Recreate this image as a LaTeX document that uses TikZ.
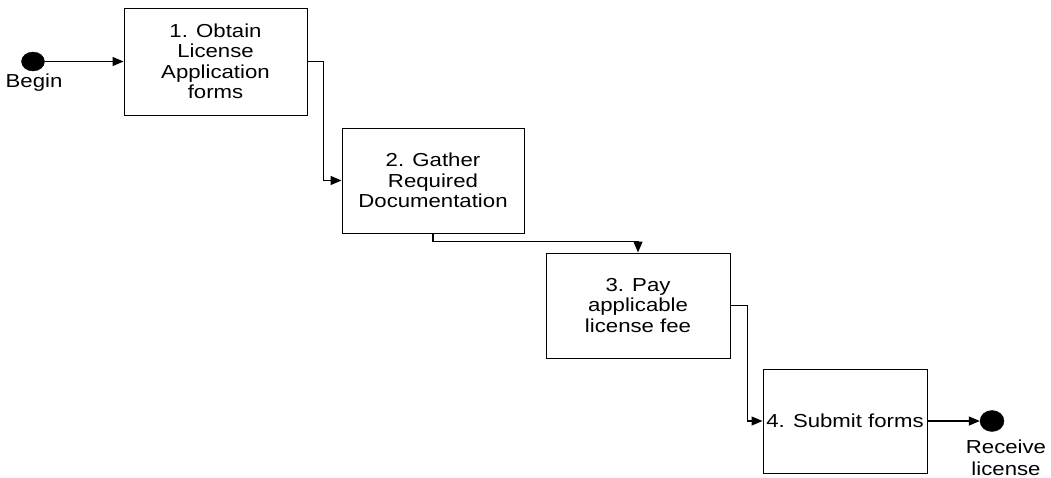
\documentclass[tikz,border=0pt]{standalone}
\usepackage{fontspec}
\setmainfont{Liberation Sans}[FakeStretch=1.18]
\usetikzlibrary{arrows.meta,shapes.geometric}
\begin{document}
\begin{tikzpicture}[x=1pt,y=-1pt,
  stepbox/.style={draw,line width=1pt,rectangle,inner sep=0pt,align=center,
    font=\fontsize{18.8}{20.5}\selectfont},
  dot/.style={ellipse,fill=black,draw=black,inner sep=0pt,minimum width=23pt,minimum height=19pt},
  lbl/.style={align=center,inner sep=0pt,anchor=base,font=\fontsize{18.8}{22}\selectfont},
  conn/.style={line width=1.3pt,-{Triangle[length=11pt,width=9pt]}}]
\useasboundingbox (0,0) rectangle (1051,477);
\node[dot] (begin) at (33,61.5) {};
\node[lbl] (beginl) at (34,87) {Begin};
\node[stepbox,minimum width=183pt,minimum height=107pt] (s1) at (215.5,61.5)
  {1. Obtain\\License\\Application\\forms};
\node[stepbox,minimum width=182pt,minimum height=105pt] (s2) at (433,180.5)
  {2. Gather\\Required\\Documentation};
\node[stepbox,minimum width=184pt,minimum height=105pt] (s3) at (638,305.5)
  {3. Pay\\applicable\\license fee};
\node[stepbox,minimum width=164pt,minimum height=104pt] (s4) at (845,421)
  {4. Submit forms};
\node[dot,minimum width=24pt,minimum height=21pt] (end) at (992,421) {};
\node[lbl] (endl) at (1006,475) {Receive\\license};
\draw[conn] (begin.east) -- (s1.west);
\draw[conn] (s1.east) -- ++(16,0) |- (s2.west);
\draw[conn] (s2.south) -- ++(0,8) -| (s3.north);
\draw[conn] (s3.east) -- ++(17,0) |- (s4.west);
\draw[conn] (s4.east) -- (end.west);
\end{tikzpicture}
\end{document}
